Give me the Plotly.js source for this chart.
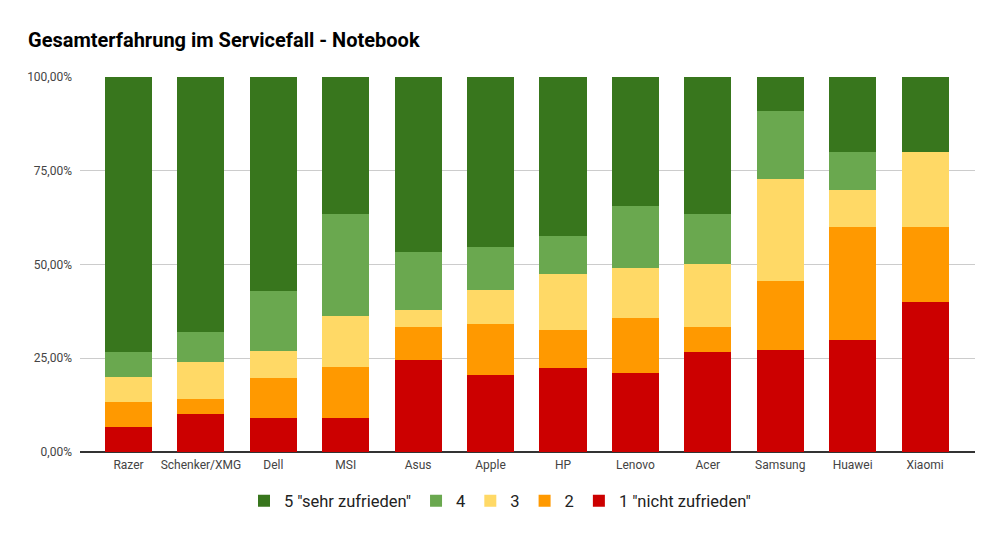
<!DOCTYPE html>
<html>
<head>
<meta charset="utf-8">
<script src="https://cdn.plot.ly/plotly-3.0.1.min.js"></script>
<style>html,body{margin:0;padding:0;background:#fff;}#chart{width:1000px;height:540px;}</style>
</head>
<body>
<div id="chart"></div>
<script>
const categories = ["Razer","Schenker/XMG","Dell","MSI","Asus","Apple","HP","Lenovo","Acer","Samsung","Huawei","Xiaomi"];
const seriesNames = ['1 "nicht zufrieden"', '2', '3', '4', '5 "sehr zufrieden"'];
const s1 = [0.067, 0.102, 0.091, 0.091, 0.246, 0.206, 0.224, 0.211, 0.267, 0.273, 0.30, 0.40];
const s2 = [0.067, 0.040, 0.107, 0.136, 0.087, 0.136, 0.101, 0.146, 0.066, 0.182, 0.30, 0.20];
const s3 = [0.066, 0.098, 0.072, 0.136, 0.045, 0.090, 0.149, 0.133, 0.168, 0.273, 0.10, 0.20];
const s4 = [0.067, 0.080, 0.159, 0.273, 0.155, 0.114, 0.101, 0.165, 0.133, 0.182, 0.10, 0.00];
const s5 = [0.733, 0.680, 0.571, 0.364, 0.467, 0.454, 0.425, 0.345, 0.366, 0.090, 0.20, 0.20];
const colors = ["#cc0000", "#ff9900", "#ffd966", "#6aa84f", "#38761d"];
const values = [s1, s2, s3, s4, s5];

const traces = values.map((v, i) => ({
  type: 'bar',
  x: categories,
  y: v,
  name: seriesNames[i],
  marker: {color: colors[i], line: {width: 0}},
  hoverinfo: 'x+y+name'
}));

const layout = {
  width: 1000, height: 540,
  barmode: 'stack',
  bargap: 0.35,
  separators: ',.',
  paper_bgcolor: '#fff',
  plot_bgcolor: '#fff',
  font: {family: 'Roboto, Arial, sans-serif', color: '#444'},
  title: {
    text: '<b>Gesamterfahrung im Servicefall - Notebook</b>',
    x: 0.028, xanchor: 'left', xref: 'container',
    y: 0.926, yanchor: 'middle', yref: 'container',
    font: {family: 'Roboto, Arial, sans-serif', size: 20, color: '#000'}
  },
  margin: {l: 80, r: 25, t: 77, b: 88, pad: 0},
  xaxis: {
    type: 'category',
    range: [-0.67, 11.69],
    showgrid: false,
    showline: false,
    zeroline: false,
    ticks: '',
    ticklabelstandoff: 4,
    tickfont: {size: 12, color: '#444'},
    automargin: false
  },
  yaxis: {
    range: [0, 1],
    tickvals: [0, 0.25, 0.5, 0.75, 1],
    tickformat: '.2%',
    gridcolor: '#cccccc',
    gridwidth: 1,
    zeroline: true,
    zerolinecolor: '#333333',
    zerolinewidth: 2,
    ticks: '',
    ticklabelstandoff: 7,
    tickfont: {size: 12, color: '#444'},
    automargin: false
  },
  showlegend: true,
  legend: {
    orientation: 'h',
    traceorder: 'reversed',
    x: 0.5, xanchor: 'center', xref: 'container',
    y: 0.072, yanchor: 'middle', yref: 'container',
    font: {size: 16.5, color: '#222'},
    itemwidth: 30
  }
};

Plotly.newPlot('chart', traces, layout, {displayModeBar: false, staticPlot: true});
</script>
</body>
</html>
